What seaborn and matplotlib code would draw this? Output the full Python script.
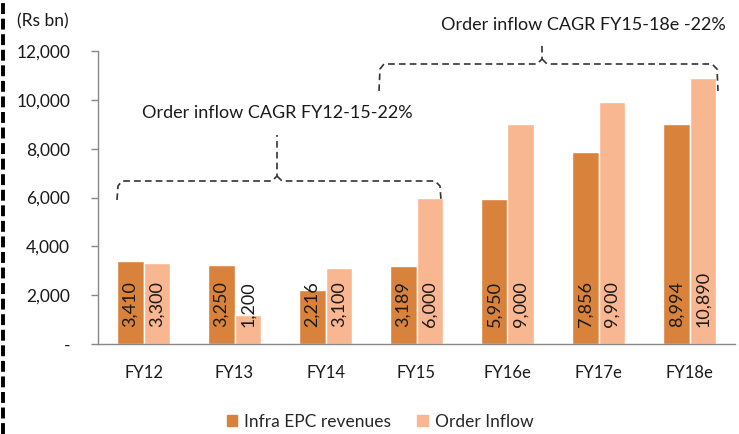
import pandas as pd
import numpy as np
import matplotlib
matplotlib.use("Agg")
import matplotlib.pyplot as plt
from matplotlib.lines import Line2D
import seaborn as sns

years = ["FY12", "FY13", "FY14", "FY15", "FY16e", "FY17e", "FY18e"]
year_labels = ["FY12", "FY13", "FY14", "FY15", "FY16e", "FY17e", "FY18e"]
revenues = [3410, 3250, 2216, 3189, 5950, 7856, 8994]
inflow = [3300, 1200, 3100, 6000, 9000, 9900, 10890]
series = ["Infra EPC revenues", "Order Inflow"]
colors = ["#D9823B", "#F9B791"]

df = pd.DataFrame({
    "year": years * 2,
    "value": revenues + inflow,
    "series": [series[0]] * len(years) + [series[1]] * len(years),
})

sns.set_style("white")
plt.rcParams["font.family"] = ["Lato", "DejaVu Sans"]

W, H = 739, 434
fig = plt.figure(figsize=(W / 100, H / 100), dpi=100)
ax = fig.add_axes([98 / W, 1 - 344 / H, (735 - 98) / W, (344 - 51) / H])

sns.barplot(data=df, x="year", y="value", hue="series", palette=colors,
            width=0.58, saturation=1, ax=ax, legend=False)

ax.set_ylim(0, 12000)
ax.set_xlim(-0.5, len(years) - 0.5)
yt = np.arange(0, 12001, 2000)
ax.set_yticks(yt)
ax.set_yticklabels(["-"] + [f"{v:,}" for v in yt[1:]])
ax.set_xticks(range(len(years)))
ax.set_xticklabels(year_labels)
ax.set_xticks(np.arange(-0.5, len(years), 1), minor=True)
ax.tick_params(axis="x", which="major", length=0, pad=15, labelsize=12, labelcolor="#1a1a1a")
ax.tick_params(axis="x", which="minor", length=5, color="#888888", width=1, direction="out")
ax.tick_params(axis="y", length=5, color="#888888", width=1, direction="out", labelsize=12.5,
               labelcolor="#1a1a1a", pad=15, left=True)
ax.set_xlabel("")
ax.set_ylabel("")
for s in ["top", "right"]:
    ax.spines[s].set_visible(False)
for s in ["left", "bottom"]:
    ax.spines[s].set_color("#888888")
    ax.spines[s].set_linewidth(1)

# value labels inside bars
vals = [revenues, inflow]
for cont, vv in zip(ax.containers, vals):
    for bar, v in zip(cont, vv):
        ax.text(bar.get_x() + bar.get_width() / 2, 700, f"{v:,}", rotation=90,
                ha="center", va="bottom", fontsize=13, color="#1a1a1a")

fig.text(17 / W, 1 - 21 / H, "(Rs bn)", fontsize=12.5, color="#1a1a1a", va="center", ha="left")


def px(x, y):
    return x / W, 1 - y / H


def bracket(x0, x1, xm, ytop, yend, ypeak):
    r = 5
    left = [(x0, yend), (x0 + 1, ytop + r), (x0 + r, ytop), (xm - r, ytop), (xm, ytop - r), (xm, ypeak)]
    right = [(xm, ytop - r), (xm + r, ytop), (x1 - r, ytop), (x1, ytop + r), (x1 + 1, yend)]
    for pts in (left, right):
        xs, ys = zip(*[px(a, b) for a, b in pts])
        fig.add_artist(Line2D(xs, ys, transform=fig.transFigure, color="#333333",
                              lw=1.2, ls=(0, (4, 2.5))))


bracket(117, 440, 277, 181, 200, 135)
bracket(379, 717, 542, 64, 91, 42)
fig.text(*px(277, 113), "Order inflow CAGR FY12-15-22%", fontsize=13, color="#1a1a1a",
         ha="center", va="center")
fig.text(*px(583, 25), "Order inflow CAGR FY15-18e -22%", fontsize=13, color="#1a1a1a",
         ha="center", va="center")

# dashed left border
fig.add_artist(Line2D([3 / W, 3 / W], [0, 1], transform=fig.transFigure, color="black",
                      lw=2.8, ls=(0, (2.8, 1.2))))

handles = [plt.Rectangle((0, 0), 1, 1, color=c) for c in colors]
fig.legend(handles, series, loc="center", bbox_to_anchor=(380 / W, 1 - 422 / H), ncol=2,
           frameon=False, fontsize=12.5, handlelength=0.6, handleheight=0.6, handletextpad=0.4,
           columnspacing=1.5)

fig.savefig("out.png", dpi=100)
